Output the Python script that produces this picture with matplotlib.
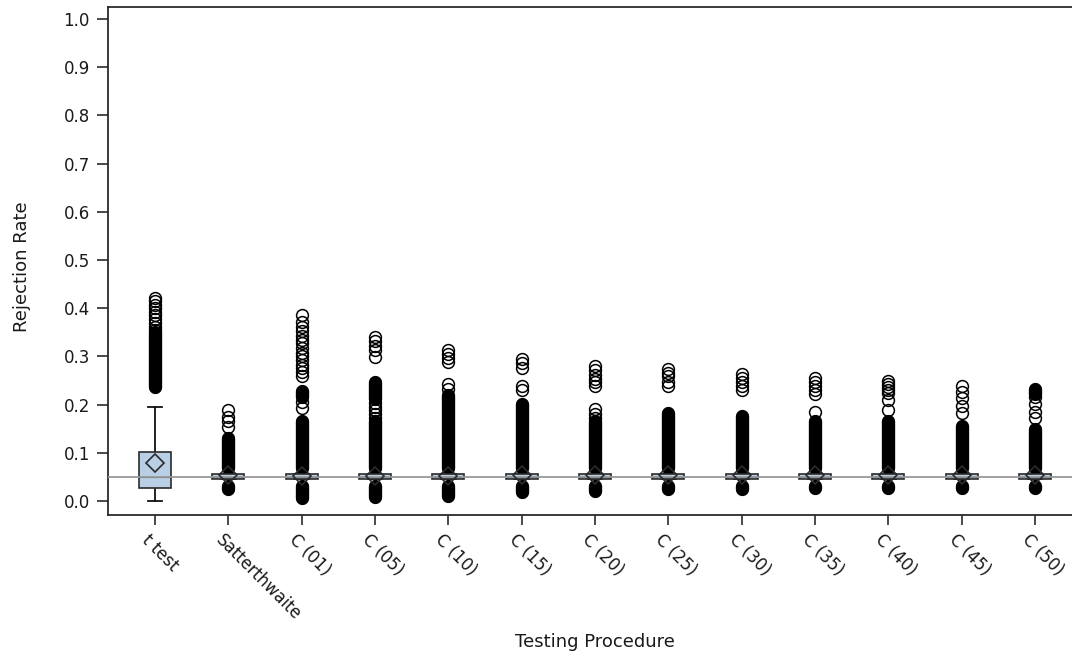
import numpy as np
import matplotlib.pyplot as plt
from matplotlib.transforms import blended_transform_factory, ScaledTranslation

# procedures on the x axis
groups = ['t test', 'Satterthwaite', 'C (01)', 'C (05)', 'C (10)', 'C (15)', 'C (20)',
          'C (25)', 'C (30)', 'C (35)', 'C (40)', 'C (45)', 'C (50)']

# box summaries of the rejection rate
q1 = [0.027, 0.046, 0.045, 0.045, 0.045, 0.046, 0.046, 0.046, 0.046, 0.046, 0.046, 0.046, 0.046]
med = [0.050, 0.050, 0.050, 0.050, 0.050, 0.050, 0.050, 0.050, 0.050, 0.050, 0.050, 0.050, 0.050]
q3 = [0.102, 0.056, 0.056, 0.056, 0.056, 0.056, 0.056, 0.056, 0.056, 0.056, 0.056, 0.056, 0.056]
means = [0.079, 0.053, 0.052, 0.052, 0.052, 0.053, 0.053, 0.053, 0.053, 0.053, 0.053, 0.053, 0.053]
whisk_lo = [0.000, 0.046, 0.045, 0.045, 0.045, 0.046, 0.046, 0.046, 0.046, 0.046, 0.046, 0.046, 0.046]
whisk_hi = [0.195, 0.056, 0.056, 0.056, 0.056, 0.056, 0.056, 0.056, 0.056, 0.056, 0.056, 0.056, 0.056]

# runs of outliers so close together that they merge into one column (low, high)
dense_runs = [
    [(0.236, 0.350)],
    [(0.025, 0.031), (0.068, 0.131)],
    [(0.006, 0.032), (0.068, 0.166), (0.216, 0.228)],
    [(0.008, 0.032), (0.068, 0.165), (0.212, 0.247)],
    [(0.011, 0.032), (0.068, 0.221)],
    [(0.018, 0.032), (0.068, 0.201)],
    [(0.021, 0.032), (0.068, 0.165)],
    [(0.025, 0.032), (0.068, 0.183)],
    [(0.025, 0.032), (0.068, 0.176)],
    [(0.027, 0.032), (0.068, 0.166)],
    [(0.027, 0.032), (0.068, 0.166)],
    [(0.027, 0.032), (0.068, 0.156)],
    [(0.027, 0.032), (0.068, 0.149), (0.222, 0.232)],
]

# outliers that still show as separate circles
sparse_out = [
    [0.421, 0.414, 0.407, 0.400, 0.392, 0.385, 0.377, 0.369, 0.362, 0.355],
    [0.189, 0.175, 0.165, 0.154],
    [0.385, 0.372, 0.362, 0.352, 0.343, 0.335, 0.327, 0.318, 0.308, 0.300,
     0.292, 0.283, 0.276, 0.268, 0.260, 0.206, 0.192],
    [0.340, 0.331, 0.322, 0.313, 0.298, 0.172, 0.180, 0.188, 0.196, 0.204],
    [0.313, 0.305, 0.297, 0.288, 0.242, 0.232],
    [0.295, 0.286, 0.277, 0.239, 0.231],
    [0.280, 0.271, 0.262, 0.253, 0.246, 0.239, 0.172, 0.180, 0.190],
    [0.273, 0.266, 0.259, 0.246, 0.238],
    [0.263, 0.255, 0.247, 0.238, 0.231],
    [0.255, 0.247, 0.239, 0.230, 0.222, 0.185],
    [0.248, 0.243, 0.237, 0.231, 0.225, 0.210, 0.189],
    [0.239, 0.227, 0.213, 0.197, 0.182],
    [0.216, 0.201, 0.185, 0.172],
]

ref_rate = 0.05
yticks = [0.0, 0.1, 0.2, 0.3, 0.4, 0.5, 0.6, 0.7, 0.8, 0.9, 1.0]

plt.rcParams['font.family'] = ['DejaVu Sans']
text_col = '#1a1a1a'
fill_col = '#b9cfe6'
edge_col = '#2b2b2b'

fig = plt.figure(figsize=(10.72, 6.56), dpi=100)
ax = fig.add_axes([108 / 1072, 1 - 515 / 656, 974 / 1072, 508 / 656])

pos = np.arange(len(groups))
box_w = 0.44
cap_w = 0.2

for i in pos:
    # whiskers and caps
    ax.plot([i, i], [whisk_lo[i], q1[i]], color='#111111', lw=1.3, zorder=2)
    ax.plot([i, i], [q3[i], whisk_hi[i]], color='#111111', lw=1.3, zorder=2)
    ax.plot([i - cap_w / 2, i + cap_w / 2], [whisk_lo[i]] * 2, color='#111111', lw=1.3, zorder=2)
    ax.plot([i - cap_w / 2, i + cap_w / 2], [whisk_hi[i]] * 2, color='#111111', lw=1.3, zorder=2)
    # outlier columns and single open circles
    for lo, hi in dense_runs[i]:
        ax.plot([i, i], [lo, hi], color='black', lw=9.6, solid_capstyle='round', zorder=4)
    ax.plot([i] * len(sparse_out[i]), sparse_out[i], ls='none', marker='o', ms=8.5,
            mfc='none', mec='black', mew=1.1, zorder=4)
    # box with median
    ax.add_patch(plt.Rectangle((i - box_w / 2, q1[i]), box_w, q3[i] - q1[i],
                               facecolor=fill_col, edgecolor=edge_col, lw=1.2, zorder=5))
    ax.plot([i - box_w / 2, i + box_w / 2], [med[i]] * 2, color=edge_col, lw=0.8, zorder=5)
    # mean diamond
    ax.plot(i, means[i], marker='D', ms=9, mfc='none', mec=edge_col, mew=1.2, zorder=7)

# nominal level
ax.axhline(ref_rate, color='#9a9a9a', lw=1.3, zorder=6)

ax.set_xlim(-0.641, len(groups) - 1 + 0.641)
ax.set_ylim(-0.029, 1.025)
ax.set_yticks(yticks)
ax.set_yticklabels(['%.1f' % v for v in yticks])
ax.set_xticks(pos)
ax.set_xticklabels([])

for s in ax.spines.values():
    s.set_color('#2b2b2b')
    s.set_linewidth(1.3)

ax.tick_params(axis='both', direction='out', color='#2b2b2b', width=1.2, labelcolor=text_col)
ax.tick_params(axis='y', length=8, labelsize=12, pad=5)
ax.tick_params(axis='x', length=7)

# slanted category names under the ticks
trans = blended_transform_factory(ax.transData, ax.transAxes) + \
    ScaledTranslation(-10 / 100, -22 / 100, fig.dpi_scale_trans)
for i, lab in zip(pos, groups):
    ax.text(i, 0, lab, transform=trans, rotation=-45, ha='left', va='center',
            rotation_mode='anchor', fontsize=12, color=text_col)

fig.text(595 / 1072, 1 - 642 / 656, 'Testing Procedure', ha='center', va='center',
         fontsize=13, color=text_col)
fig.text(22 / 1072, 1 - 267 / 656, 'Rejection Rate', ha='center', va='center',
         rotation=90, fontsize=13, color=text_col)

fig.savefig('out.png', dpi=100)
